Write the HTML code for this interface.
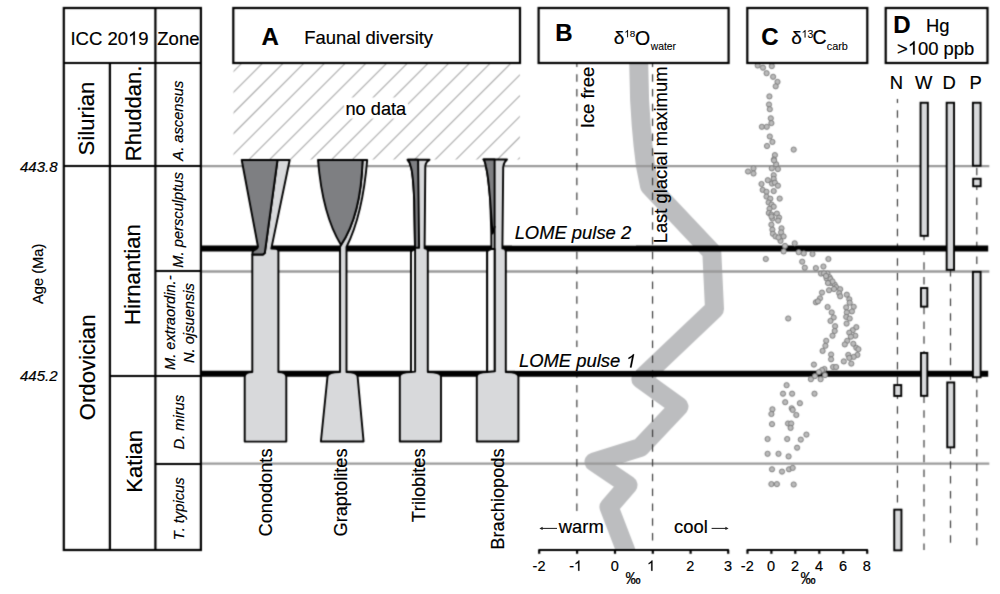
<!DOCTYPE html><html><head><meta charset="utf-8"><style>html,body{margin:0;padding:0;background:#fff;}svg{display:block;}text{font-family:"Liberation Sans",sans-serif;font-kerning:none;stroke:#000;stroke-width:0.2px;}</style></head><body>
<svg width="1000" height="594" viewBox="0 0 1000 594" font-family="Liberation Sans">
<defs><filter id="bl" x="0" y="0" width="1000" height="594" filterUnits="userSpaceOnUse" color-interpolation-filters="sRGB"><feConvolveMatrix order="3" kernelMatrix="1 4 1 4 16 4 1 4 1" divisor="36" edgeMode="duplicate"/></filter></defs>
<g filter="url(#bl)">
<rect width="1000" height="594" fill="#fff"/>
<defs><clipPath id="hc"><rect x="233.5" y="63.5" width="286.3" height="96"/></clipPath></defs>
<g clip-path="url(#hc)" stroke="#a9a9a9" stroke-width="1.1">
<line x1="42.20" y1="180" x2="182.20" y2="40"/>
<line x1="62.90" y1="180" x2="202.90" y2="40"/>
<line x1="83.60" y1="180" x2="223.60" y2="40"/>
<line x1="104.30" y1="180" x2="244.30" y2="40"/>
<line x1="125.00" y1="180" x2="265.00" y2="40"/>
<line x1="145.70" y1="180" x2="285.70" y2="40"/>
<line x1="166.40" y1="180" x2="306.40" y2="40"/>
<line x1="187.10" y1="180" x2="327.10" y2="40"/>
<line x1="207.80" y1="180" x2="347.80" y2="40"/>
<line x1="228.50" y1="180" x2="368.50" y2="40"/>
<line x1="249.20" y1="180" x2="389.20" y2="40"/>
<line x1="269.90" y1="180" x2="409.90" y2="40"/>
<line x1="290.60" y1="180" x2="430.60" y2="40"/>
<line x1="311.30" y1="180" x2="451.30" y2="40"/>
<line x1="332.00" y1="180" x2="472.00" y2="40"/>
<line x1="352.70" y1="180" x2="492.70" y2="40"/>
<line x1="373.40" y1="180" x2="513.40" y2="40"/>
<line x1="394.10" y1="180" x2="534.10" y2="40"/>
<line x1="414.80" y1="180" x2="554.80" y2="40"/>
<line x1="435.50" y1="180" x2="575.50" y2="40"/>
<line x1="456.20" y1="180" x2="596.20" y2="40"/>
<line x1="476.90" y1="180" x2="616.90" y2="40"/>
<line x1="497.60" y1="180" x2="637.60" y2="40"/>
<line x1="518.30" y1="180" x2="658.30" y2="40"/>
<line x1="539.00" y1="180" x2="679.00" y2="40"/>
<line x1="559.70" y1="180" x2="699.70" y2="40"/>
<line x1="580.40" y1="180" x2="720.40" y2="40"/>
<line x1="601.10" y1="180" x2="741.10" y2="40"/>
</g>
<rect x="344" y="97.5" width="64" height="21" fill="#fff"/>
<clipPath id="cc"><rect x="530" y="63" width="220" height="487"/></clipPath>
<polyline clip-path="url(#cc)" points="638.7,62.5 639.6,100 641.2,125 643,145 645.5,166 649.5,186 711.8,252 714.5,309 640.8,379 679,406.5 640.3,447.5 594,462 628,485 609,507 625.5,550 629,560" fill="none" stroke="#bcbdbf" stroke-width="19" stroke-linejoin="round" stroke-linecap="butt"/>
<line x1="201" y1="166.1" x2="989.3" y2="166.1" stroke="#9a9a9a" stroke-width="2.4"/>
<line x1="201" y1="271.45" x2="989.3" y2="271.45" stroke="#9a9a9a" stroke-width="2.4"/>
<line x1="201" y1="463.6" x2="989.3" y2="463.6" stroke="#9a9a9a" stroke-width="2.4"/>
<line x1="576.85" y1="64" x2="576.85" y2="512" stroke="#3a3a3a" stroke-width="1.2" stroke-dasharray="7.5 7.3" stroke-dashoffset="4.6"/>
<line x1="652.55" y1="64" x2="652.55" y2="541.5" stroke="#3a3a3a" stroke-width="1.2" stroke-dasharray="7.5 7.3" stroke-dashoffset="4.6"/>
<line x1="897.45" y1="99.1" x2="897.45" y2="550" stroke="#3a3a3a" stroke-width="1.2" stroke-dasharray="7.5 7.3" stroke-dashoffset="3.6"/>
<line x1="924.0" y1="102" x2="924.0" y2="550" stroke="#3a3a3a" stroke-width="1.2" stroke-dasharray="7.5 7.3" stroke-dashoffset="2.5"/>
<line x1="950.5" y1="102" x2="950.5" y2="550" stroke="#3a3a3a" stroke-width="1.2" stroke-dasharray="7.5 7.3" stroke-dashoffset="10.7"/>
<line x1="976.8" y1="102" x2="976.8" y2="550" stroke="#3a3a3a" stroke-width="1.2" stroke-dasharray="7.5 7.3" stroke-dashoffset="8.2"/>
<line x1="201" y1="248.45" x2="988.2" y2="248.45" stroke="#000" stroke-width="5.9"/>
<line x1="201" y1="373.75" x2="988.2" y2="373.75" stroke="#000" stroke-width="5.9"/>
<g fill="#bababa" stroke="#777" stroke-width="0.9">
<circle cx="757.7" cy="65.5" r="2.6"/>
<circle cx="763.0" cy="67.7" r="2.6"/>
<circle cx="771.8" cy="66.1" r="2.6"/>
<circle cx="766.6" cy="73.2" r="2.6"/>
<circle cx="773.1" cy="76.8" r="2.6"/>
<circle cx="777.5" cy="81.9" r="2.6"/>
<circle cx="775.7" cy="86.3" r="2.6"/>
<circle cx="769.4" cy="96.4" r="2.6"/>
<circle cx="769.0" cy="104.5" r="2.6"/>
<circle cx="769.8" cy="109.2" r="2.6"/>
<circle cx="770.8" cy="118.3" r="2.6"/>
<circle cx="771.4" cy="123.1" r="2.6"/>
<circle cx="761.9" cy="126.8" r="2.6"/>
<circle cx="766.8" cy="126.8" r="2.6"/>
<circle cx="769.8" cy="136.5" r="2.6"/>
<circle cx="772.4" cy="141.9" r="2.6"/>
<circle cx="767.0" cy="146.0" r="2.6"/>
<circle cx="793.7" cy="149.6" r="2.6"/>
<circle cx="774.9" cy="155.1" r="2.6"/>
<circle cx="773.9" cy="159.5" r="2.6"/>
<circle cx="776.1" cy="164.2" r="2.6"/>
<circle cx="774.0" cy="160.4" r="2.6"/>
<circle cx="771.8" cy="168.4" r="2.6"/>
<circle cx="777.9" cy="169.1" r="2.6"/>
<circle cx="753.5" cy="168.4" r="2.6"/>
<circle cx="748.0" cy="171.5" r="2.6"/>
<circle cx="753.5" cy="173.5" r="2.6"/>
<circle cx="773.7" cy="175.2" r="2.6"/>
<circle cx="767.8" cy="180.2" r="2.6"/>
<circle cx="773.7" cy="178.9" r="2.6"/>
<circle cx="772.0" cy="183.6" r="2.6"/>
<circle cx="774.9" cy="182.7" r="2.6"/>
<circle cx="777.9" cy="185.7" r="2.6"/>
<circle cx="761.5" cy="184.0" r="2.6"/>
<circle cx="762.7" cy="189.9" r="2.6"/>
<circle cx="766.5" cy="191.8" r="2.6"/>
<circle cx="773.7" cy="191.1" r="2.6"/>
<circle cx="766.5" cy="196.6" r="2.6"/>
<circle cx="770.3" cy="198.7" r="2.6"/>
<circle cx="779.7" cy="198.6" r="2.6"/>
<circle cx="768.6" cy="202.5" r="2.6"/>
<circle cx="771.6" cy="204.6" r="2.6"/>
<circle cx="773.7" cy="206.7" r="2.6"/>
<circle cx="769.5" cy="208.8" r="2.6"/>
<circle cx="768.8" cy="213.0" r="2.6"/>
<circle cx="771.4" cy="214.6" r="2.6"/>
<circle cx="776.9" cy="213.6" r="2.6"/>
<circle cx="779.1" cy="217.6" r="2.6"/>
<circle cx="772.4" cy="218.6" r="2.6"/>
<circle cx="778.1" cy="220.6" r="2.6"/>
<circle cx="771.4" cy="224.7" r="2.6"/>
<circle cx="781.5" cy="228.3" r="2.6"/>
<circle cx="772.4" cy="229.7" r="2.6"/>
<circle cx="781.1" cy="232.4" r="2.6"/>
<circle cx="772.9" cy="233.8" r="2.6"/>
<circle cx="775.5" cy="236.4" r="2.6"/>
<circle cx="783.6" cy="236.4" r="2.6"/>
<circle cx="780.5" cy="240.9" r="2.6"/>
<circle cx="794.7" cy="243.3" r="2.6"/>
<circle cx="785.0" cy="245.9" r="2.6"/>
<circle cx="783.6" cy="251.4" r="2.6"/>
<circle cx="798.7" cy="252.2" r="2.6"/>
<circle cx="803.8" cy="253.4" r="2.6"/>
<circle cx="812.5" cy="254.0" r="2.6"/>
<circle cx="765.8" cy="259.0" r="2.6"/>
<circle cx="828.4" cy="259.0" r="2.6"/>
<circle cx="802.2" cy="261.7" r="2.6"/>
<circle cx="804.8" cy="267.7" r="2.6"/>
<circle cx="815.9" cy="268.1" r="2.6"/>
<circle cx="823.4" cy="266.5" r="2.6"/>
<circle cx="821.0" cy="273.6" r="2.6"/>
<circle cx="827.4" cy="273.6" r="2.6"/>
<circle cx="829.5" cy="277.2" r="2.6"/>
<circle cx="826.6" cy="278.5" r="2.6"/>
<circle cx="830.5" cy="279.1" r="2.6"/>
<circle cx="831.1" cy="283.1" r="2.6"/>
<circle cx="834.7" cy="284.6" r="2.6"/>
<circle cx="836.1" cy="287.2" r="2.6"/>
<circle cx="840.2" cy="289.2" r="2.6"/>
<circle cx="829.0" cy="290.2" r="2.6"/>
<circle cx="822.0" cy="292.6" r="2.6"/>
<circle cx="839.2" cy="293.2" r="2.6"/>
<circle cx="840.2" cy="296.3" r="2.6"/>
<circle cx="846.8" cy="294.7" r="2.6"/>
<circle cx="820.0" cy="298.3" r="2.6"/>
<circle cx="815.9" cy="302.3" r="2.6"/>
<circle cx="817.9" cy="301.3" r="2.6"/>
<circle cx="849.3" cy="299.3" r="2.6"/>
<circle cx="849.7" cy="302.7" r="2.6"/>
<circle cx="827.6" cy="307.0" r="2.6"/>
<circle cx="846.2" cy="307.4" r="2.6"/>
<circle cx="853.7" cy="306.8" r="2.6"/>
<circle cx="851.9" cy="311.4" r="2.6"/>
<circle cx="846.8" cy="312.4" r="2.6"/>
<circle cx="831.7" cy="312.4" r="2.6"/>
<circle cx="833.7" cy="317.5" r="2.6"/>
<circle cx="846.2" cy="316.9" r="2.6"/>
<circle cx="849.7" cy="318.5" r="2.6"/>
<circle cx="788.2" cy="318.5" r="2.6"/>
<circle cx="830.5" cy="320.9" r="2.6"/>
<circle cx="846.6" cy="323.6" r="2.6"/>
<circle cx="835.1" cy="326.2" r="2.6"/>
<circle cx="856.3" cy="327.2" r="2.6"/>
<circle cx="852.7" cy="330.2" r="2.6"/>
<circle cx="849.3" cy="332.7" r="2.6"/>
<circle cx="834.7" cy="331.0" r="2.6"/>
<circle cx="832.5" cy="335.7" r="2.6"/>
<circle cx="855.3" cy="335.7" r="2.6"/>
<circle cx="850.9" cy="336.7" r="2.6"/>
<circle cx="847.2" cy="340.8" r="2.6"/>
<circle cx="826.2" cy="340.8" r="2.6"/>
<circle cx="844.8" cy="344.4" r="2.6"/>
<circle cx="853.3" cy="343.8" r="2.6"/>
<circle cx="825.4" cy="345.8" r="2.6"/>
<circle cx="856.3" cy="347.8" r="2.6"/>
<circle cx="858.4" cy="349.2" r="2.6"/>
<circle cx="822.6" cy="350.9" r="2.6"/>
<circle cx="831.1" cy="354.5" r="2.6"/>
<circle cx="848.3" cy="354.9" r="2.6"/>
<circle cx="857.4" cy="354.9" r="2.6"/>
<circle cx="853.7" cy="356.9" r="2.6"/>
<circle cx="849.3" cy="357.9" r="2.6"/>
<circle cx="831.1" cy="359.3" r="2.6"/>
<circle cx="843.8" cy="361.4" r="2.6"/>
<circle cx="851.3" cy="363.6" r="2.6"/>
<circle cx="813.9" cy="364.6" r="2.6"/>
<circle cx="833.1" cy="367.0" r="2.6"/>
<circle cx="836.1" cy="367.0" r="2.6"/>
<circle cx="824.4" cy="369.0" r="2.6"/>
<circle cx="822.0" cy="370.1" r="2.6"/>
<circle cx="818.9" cy="372.1" r="2.6"/>
<circle cx="825.0" cy="375.1" r="2.6"/>
<circle cx="814.9" cy="376.1" r="2.6"/>
<circle cx="820.6" cy="379.2" r="2.6"/>
<circle cx="810.9" cy="379.2" r="2.6"/>
<circle cx="786.6" cy="385.2" r="2.6"/>
<circle cx="783.0" cy="393.7" r="2.6"/>
<circle cx="792.1" cy="393.7" r="2.6"/>
<circle cx="814.5" cy="393.7" r="2.6"/>
<circle cx="785.2" cy="402.2" r="2.6"/>
<circle cx="799.9" cy="403.2" r="2.6"/>
<circle cx="772.4" cy="409.3" r="2.6"/>
<circle cx="791.7" cy="408.3" r="2.6"/>
<circle cx="792.7" cy="409.9" r="2.6"/>
<circle cx="771.4" cy="414.0" r="2.6"/>
<circle cx="796.3" cy="415.0" r="2.6"/>
<circle cx="772.0" cy="424.1" r="2.6"/>
<circle cx="788.0" cy="423.5" r="2.6"/>
<circle cx="791.2" cy="423.5" r="2.6"/>
<circle cx="790.6" cy="427.9" r="2.6"/>
<circle cx="806.4" cy="434.6" r="2.6"/>
<circle cx="767.6" cy="439.0" r="2.6"/>
<circle cx="787.2" cy="439.0" r="2.6"/>
<circle cx="800.8" cy="439.6" r="2.6"/>
<circle cx="797.1" cy="447.7" r="2.6"/>
<circle cx="767.6" cy="453.8" r="2.6"/>
<circle cx="778.5" cy="453.8" r="2.6"/>
<circle cx="788.6" cy="456.4" r="2.6"/>
<circle cx="772.0" cy="469.3" r="2.6"/>
<circle cx="782.0" cy="471.6" r="2.6"/>
<circle cx="789.0" cy="469.3" r="2.6"/>
<circle cx="792.7" cy="467.9" r="2.6"/>
<circle cx="771.4" cy="484.1" r="2.6"/>
<circle cx="776.9" cy="484.1" r="2.6"/>
<circle cx="793.7" cy="484.5" r="2.6"/>
<circle cx="778.5" cy="237.5" r="2.6"/>
<circle cx="771.5" cy="216.5" r="2.6"/>
<circle cx="824.0" cy="273.4" r="2.6"/>
<circle cx="832.5" cy="281.5" r="2.6"/>
<circle cx="828.0" cy="283.0" r="2.6"/>
<circle cx="834.0" cy="289.0" r="2.6"/>
<circle cx="826.0" cy="276.0" r="2.6"/>
</g>
<path d="M277.5,160 L289.7,160 L271.3,248.6 L276,248.7 Q278.4,249 278.4,251.5 L278.4,372 Q286.3,372.2 286.3,376.8 L286.3,441.6 L244.7,441.6 L244.7,376.8 Q244.7,372.2 252.3,372 L252.3,254.5 L263,254.5 L264.8,253 Z" fill="#d8d9db" stroke="#000" stroke-width="1.9" stroke-linejoin="round"/>
<path d="M241.7,160 L277.5,160 L264.8,253 L263,254.5 L252.5,254.5 L252.5,252.2 Q253.2,249.9 255.4,249.5 Q257.6,248.6 258,246.8 Z" fill="#7e7f82" stroke="#000" stroke-width="1.9" stroke-linejoin="round"/>
<path d="M362.6,160 L367.2,160 Q362.6,215 346.5,247 L346.5,372 Q357.5,372.3 357.6,376.6 L363.6,441.5 L320.9,441.5 L327.5,376.6 Q327.6,372.3 340,372 L340,247 L341,245 Q361,215 362.6,160 Z" fill="#d8d9db" stroke="#000" stroke-width="1.9" stroke-linejoin="round"/>
<path d="M318,160 L362.6,160 Q361,215 341,245 Q322.5,215 318,160 Z" fill="#7e7f82" stroke="#000" stroke-width="1.9" stroke-linejoin="round"/>
<path d="M407.6,159.8 L429.5,159.8 Q426,161.5 425.3,166 L424.6,248.2 Q427.8,248.4 427.8,251 L427.8,372 Q441,372.2 441,376.6 L441,441.5 L399.8,441.5 L399.8,376.6 Q399.8,372.2 411,372 L411,251.5 Q413.5,249.5 415,247.8 L414.2,200 Q413,172 410.6,166 Q409.5,161.5 407.6,159.8 Z" fill="#d8d9db" stroke="#000" stroke-width="1.9" stroke-linejoin="round"/>
<path d="M407.6,159.8 L418.1,159.8 L419.1,247.8 L415,247.8 L414.2,200 Q413,172 410.6,166 Q409.5,161.5 407.6,159.8 Z" fill="#7e7f82" stroke="#000" stroke-width="1.9" stroke-linejoin="round"/>
<path d="M411,251.5 Q413.5,249.6 415.1,249 L415.1,371.6 L411,372 Z" fill="#fbfbfb" stroke="#000" stroke-width="1.9" stroke-linejoin="round"/>
<path d="M483.5,159.5 L507,159.5 Q503.8,162 503.2,167 L502.4,248.4 Q505.8,248.6 505.8,251.5 L505.8,372 Q518.4,372.2 518.4,376.6 L518.4,441.5 L476.8,441.5 L476.8,376.6 Q476.8,372.2 487.2,372 L487.2,251.2 Q489,249.6 491.4,249 L491.3,233 L490.2,200 Q488,174 486,167 Q485.2,161.5 483.5,159.5 Z" fill="#d8d9db" stroke="#000" stroke-width="1.9" stroke-linejoin="round"/>
<path d="M483.5,159.5 L494.6,159.5 L494.6,227 L492.6,233.5 L490.2,200 Q488,174 486,167 Q485.2,161.5 483.5,159.5 Z" fill="#7e7f82" stroke="#000" stroke-width="1.9" stroke-linejoin="round"/>
<line x1="494.6" y1="226" x2="494.6" y2="372" stroke="#000" stroke-width="1.9"/>
<path d="M487.2,251.2 Q489,249.6 491.4,249 L494.6,249 L494.6,371.3 L487.2,372 Z" fill="#fbfbfb" stroke="#000" stroke-width="1.9" stroke-linejoin="round"/>
<rect x="920.55" y="102.75" width="7.30" height="133.10" fill="#d8d9db" stroke="#000" stroke-width="1.9"/>
<rect x="946.65" y="102.75" width="7.40" height="167.10" fill="#d8d9db" stroke="#000" stroke-width="1.9"/>
<rect x="972.90" y="102.75" width="7.70" height="63.00" fill="#d8d9db" stroke="#000" stroke-width="1.9"/>
<rect x="973.15" y="178.75" width="7.50" height="7.50" fill="#d8d9db" stroke="#000" stroke-width="1.9"/>
<rect x="920.95" y="288.05" width="6.40" height="18.60" fill="#d8d9db" stroke="#000" stroke-width="1.9"/>
<rect x="920.95" y="352.95" width="6.40" height="42.90" fill="#d8d9db" stroke="#000" stroke-width="1.9"/>
<rect x="972.90" y="271.85" width="7.70" height="105.40" fill="#d8d9db" stroke="#000" stroke-width="1.9"/>
<rect x="894.25" y="385.05" width="7.00" height="10.90" fill="#d8d9db" stroke="#000" stroke-width="1.9"/>
<rect x="947.25" y="382.45" width="7.00" height="64.90" fill="#d8d9db" stroke="#000" stroke-width="1.9"/>
<rect x="894.25" y="509.65" width="7.20" height="40.70" fill="#d8d9db" stroke="#000" stroke-width="1.9"/>
<line x1="538.4000000000001" y1="550.0" x2="729.0" y2="550.0" stroke="#000" stroke-width="2.2"/>
<line x1="539.2" y1="550.0" x2="539.2" y2="553.8" stroke="#000" stroke-width="2.2"/>
<line x1="577.1" y1="550.0" x2="577.1" y2="553.8" stroke="#000" stroke-width="2.2"/>
<line x1="615.0" y1="550.0" x2="615.0" y2="553.8" stroke="#000" stroke-width="2.2"/>
<line x1="652.8" y1="550.0" x2="652.8" y2="553.8" stroke="#000" stroke-width="2.2"/>
<line x1="690.6" y1="550.0" x2="690.6" y2="553.8" stroke="#000" stroke-width="2.2"/>
<line x1="728.2" y1="550.0" x2="728.2" y2="553.8" stroke="#000" stroke-width="2.2"/>
<line x1="746.7" y1="550.0" x2="868.0" y2="550.0" stroke="#000" stroke-width="2.2"/>
<line x1="747.5" y1="550.0" x2="747.5" y2="553.8" stroke="#000" stroke-width="2.2"/>
<line x1="771.4" y1="550.0" x2="771.4" y2="553.8" stroke="#000" stroke-width="2.2"/>
<line x1="795.3" y1="550.0" x2="795.3" y2="553.8" stroke="#000" stroke-width="2.2"/>
<line x1="819.3" y1="550.0" x2="819.3" y2="553.8" stroke="#000" stroke-width="2.2"/>
<line x1="843.3" y1="550.0" x2="843.3" y2="553.8" stroke="#000" stroke-width="2.2"/>
<line x1="867.2" y1="550.0" x2="867.2" y2="553.8" stroke="#000" stroke-width="2.2"/>
<rect x="233.3" y="8.0" width="286.70" height="55.00" fill="#fff" stroke="#000" stroke-width="2.2"/>
<rect x="538.6" y="8.0" width="190.00" height="55.00" fill="#fff" stroke="#000" stroke-width="2.2"/>
<rect x="747.3" y="8.0" width="120.00" height="55.00" fill="#fff" stroke="#000" stroke-width="2.2"/>
<rect x="885.7" y="8.0" width="101.80" height="55.00" fill="#fff" stroke="#000" stroke-width="2.2"/>
<rect x="63.8" y="8" width="137.1" height="542" fill="none" stroke="#000" stroke-width="2.2"/>
<line x1="64" y1="63" x2="200.9" y2="63" stroke="#000" stroke-width="2.2"/>
<line x1="64" y1="166" x2="200.9" y2="166" stroke="#000" stroke-width="2.2"/>
<line x1="109.9" y1="63" x2="109.9" y2="550" stroke="#000" stroke-width="2.2"/>
<line x1="155.4" y1="8" x2="155.4" y2="550" stroke="#000" stroke-width="2.2"/>
<line x1="109.9" y1="376" x2="200.9" y2="376" stroke="#000" stroke-width="2.2"/>
<line x1="155.4" y1="271" x2="200.9" y2="271" stroke="#000" stroke-width="2.2"/>
<line x1="155.4" y1="464" x2="200.9" y2="464" stroke="#000" stroke-width="2.2"/>
<defs><filter id="bt" x="0" y="0" width="1000" height="594" filterUnits="userSpaceOnUse" color-interpolation-filters="sRGB"><feConvolveMatrix order="3" kernelMatrix="none" divisor="1" edgeMode="none"/></filter></defs>
<rect x="512" y="220" width="124" height="25.4" fill="#fff"/>
<rect x="515" y="347" width="121" height="23.6" fill="#fff"/>
</g>
<g>
<path d="M763,0 L583,0 L583,1147 C540,1106 483,1064 413,1023 C343,982 280,951 224,930 L224,1104 C325,1152 413,1210 488,1277 C563,1345 616,1410 647,1472 L763,1472 Z" transform="translate(127.97,44.80) scale(0.009033,-0.009033)" fill="#000" stroke="#000" stroke-width="22.1"/>
<text x="70.39" y="44.80" font-size="18.5" fill="#000">ICC 20 9</text>
<text x="157.31" y="44.80" font-size="18.5" fill="#000">Zone</text>
<text x="94.30" y="155.39" font-size="22.1" fill="#000" transform="rotate(-90 94.30 155.39)">Silurian</text>
<text x="140.60" y="161.32" font-size="22.1" fill="#000" transform="rotate(-90 140.60 161.32)">Rhuddan.</text>
<text x="183.10" y="160.62" font-size="14.7" font-style="italic" fill="#000" transform="rotate(-90 183.10 160.62)">A. ascensus</text>
<text x="95.00" y="420.17" font-size="22.1" fill="#000" transform="rotate(-90 95.00 420.17)">Ordovician</text>
<text x="140.30" y="324.91" font-size="22.1" fill="#000" transform="rotate(-90 140.30 324.91)">Hirnantian</text>
<text x="141.60" y="492.67" font-size="22.1" fill="#000" transform="rotate(-90 141.60 492.67)">Katian</text>
<text x="183.30" y="267.67" font-size="14.7" font-style="italic" fill="#000" transform="rotate(-90 183.30 267.67)">M. persculptus</text>
<text x="175.00" y="370.09" font-size="14.7" font-style="italic" fill="#000" transform="rotate(-90 175.00 370.09)">M. extraordin.-</text>
<text x="193.60" y="363.06" font-size="14.7" font-style="italic" fill="#000" transform="rotate(-90 193.60 363.06)">N. ojsuensis</text>
<text x="183.80" y="449.58" font-size="14.7" font-style="italic" fill="#000" transform="rotate(-90 183.80 449.58)">D. mirus</text>
<text x="183.80" y="540.26" font-size="14.7" font-style="italic" fill="#000" transform="rotate(-90 183.80 540.26)">T. typicus</text>
<text x="20.00" y="171.70" font-size="15" font-style="italic" fill="#000">443.8</text>
<text x="20.00" y="380.90" font-size="15" font-style="italic" fill="#000">445.2</text>
<text x="43.50" y="304.08" font-size="14.7" fill="#000" transform="rotate(-90 43.50 304.08)">Age (Ma)</text>
<text x="261.50" y="44.50" font-size="24" font-weight="bold" fill="#000">A</text>
<text x="304.29" y="44.25" font-size="18.4" fill="#000">Faunal diversity</text>
<text x="345.49" y="114.70" font-size="18.2" fill="#000">no data</text>
<text x="555.19" y="41.20" font-size="24" font-weight="bold" fill="#000">B</text>
<text x="613.70" y="44.40" font-size="19" fill="#000">δ</text>
<path d="M763,0 L583,0 L583,1147 C540,1106 483,1064 413,1023 C343,982 280,951 224,930 L224,1104 C325,1152 413,1210 488,1277 C563,1345 616,1410 647,1472 L763,1472 Z" transform="translate(624.35,37.20) scale(0.004834,-0.004834)" fill="#000" stroke="#000" stroke-width="20.7"/>
<text x="624.35" y="37.20" font-size="9.9" fill="#000" style="stroke-width:0.1px"> 8</text>
<text x="634.98" y="44.50" font-size="19.5" fill="#000">O</text>
<text x="650.72" y="49.80" font-size="10.3" fill="#000" style="stroke-width:0.1px">water</text>
<text x="761.22" y="45.10" font-size="24" font-weight="bold" fill="#000">C</text>
<text x="791.20" y="44.40" font-size="19" fill="#000">δ</text>
<path d="M763,0 L583,0 L583,1147 C540,1106 483,1064 413,1023 C343,982 280,951 224,930 L224,1104 C325,1152 413,1210 488,1277 C563,1345 616,1410 647,1472 L763,1472 Z" transform="translate(801.60,37.60) scale(0.005127,-0.005127)" fill="#000" stroke="#000" stroke-width="19.5"/>
<text x="801.60" y="37.60" font-size="10.5" fill="#000" style="stroke-width:0.1px"> 3</text>
<text x="812.61" y="44.40" font-size="19.5" fill="#000">C</text>
<text x="826.74" y="50.10" font-size="10.9" fill="#000" style="stroke-width:0.1px">carb</text>
<text x="893.19" y="32.80" font-size="24" font-weight="bold" fill="#000">D</text>
<text x="925.99" y="32.20" font-size="18.4" fill="#000">Hg</text>
<path d="M763,0 L583,0 L583,1147 C540,1106 483,1064 413,1023 C343,982 280,951 224,930 L224,1104 C325,1152 413,1210 488,1277 C563,1345 616,1410 647,1472 L763,1472 Z" transform="translate(907.84,54.50) scale(0.008984,-0.008984)" fill="#000" stroke="#000" stroke-width="22.3"/>
<text x="897.09" y="54.50" font-size="18.4" fill="#000">&gt; 00 ppb</text>
<text x="889.69" y="88.80" font-size="18.4" fill="#000">N</text>
<text x="915.12" y="88.80" font-size="18.4" fill="#000">W</text>
<text x="942.39" y="88.80" font-size="18.4" fill="#000">D</text>
<text x="969.39" y="88.80" font-size="18.4" fill="#000">P</text>
<text x="593.70" y="128.17" font-size="18.4" fill="#000" transform="rotate(-90 593.70 128.17)">Ice free</text>
<text x="667.00" y="243.35" font-size="18.4" fill="#000" transform="rotate(-90 667.00 243.35)">Last glacial maximum</text>
<text x="514.63" y="239.00" font-size="18.4" font-style="italic" fill="#000">LOME pulse 2</text>
<path d="M 683,0 L 503,0 L 732,1147 C 681,1106 616,1064 538,1023 C 459,982 390,951 330,930 L 365,1104 C 475,1152 575,1210 663,1277 C 752,1345 818,1410 861,1472 L 977,1472 Z" transform="translate(625.39,367.40) scale(0.008984,-0.008984)" fill="#000" stroke="#000" stroke-width="22.3"/>
<text x="519.03" y="367.40" font-size="18.4" font-style="italic" fill="#000">LOME pulse  </text>
<text x="558.83" y="532.70" font-size="18.4" fill="#000">warm</text>
<text x="674.12" y="532.70" font-size="18.4" fill="#000">cool</text>
<g stroke="#222" stroke-width="1.05" fill="none"><line x1="541" y1="528.4" x2="557" y2="528.4"/><line x1="711.6" y1="528.4" x2="727" y2="528.4"/></g>
<g fill="#222"><polygon points="539.4,528.4 542.6,526.8 542.6,530"/><polygon points="728.6,528.4 725.4,526.8 725.4,530"/></g>
<text x="271.90" y="536.47" font-size="18.2" fill="#000" transform="rotate(-90 271.90 536.47)">Conodonts</text>
<text x="347.10" y="536.45" font-size="18.2" fill="#000" transform="rotate(-90 347.10 536.45)">Graptolites</text>
<text x="425.40" y="522.27" font-size="18.2" fill="#000" transform="rotate(-90 425.40 522.27)">Trilobites</text>
<text x="504.10" y="549.62" font-size="18.2" fill="#000" transform="rotate(-90 504.10 549.62)">Brachiopods</text>
<text x="532.60" y="570.80" font-size="14.5" fill="#000">-2</text>
<path d="M763,0 L583,0 L583,1147 C540,1106 483,1064 413,1023 C343,982 280,951 224,930 L224,1104 C325,1152 413,1210 488,1277 C563,1345 616,1410 647,1472 L763,1472 Z" transform="translate(574.01,570.80) scale(0.007080,-0.007080)" fill="#000" stroke="#000" stroke-width="28.2"/>
<text x="569.19" y="570.80" font-size="14.5" fill="#000">- </text>
<text x="610.77" y="570.80" font-size="14.5" fill="#000">0</text>
<path d="M763,0 L583,0 L583,1147 C540,1106 483,1064 413,1023 C343,982 280,951 224,930 L224,1104 C325,1152 413,1210 488,1277 C563,1345 616,1410 647,1472 L763,1472 Z" transform="translate(647.07,570.80) scale(0.007080,-0.007080)" fill="#000" stroke="#000" stroke-width="28.2"/>
<text x="647.07" y="570.80" font-size="14.5" fill="#000"> </text>
<text x="686.37" y="570.80" font-size="14.5" fill="#000">2</text>
<text x="724.01" y="570.80" font-size="14.5" fill="#000">3</text>
<text x="740.80" y="570.80" font-size="14.5" fill="#000">-2</text>
<text x="767.07" y="570.80" font-size="14.5" fill="#000">0</text>
<text x="790.97" y="570.80" font-size="14.5" fill="#000">2</text>
<text x="815.01" y="570.80" font-size="14.5" fill="#000">4</text>
<text x="838.92" y="570.80" font-size="14.5" fill="#000">6</text>
<text x="862.87" y="570.80" font-size="14.5" fill="#000">8</text>
<text x="625.60" y="584.10" font-size="15.2" fill="#000" transform="translate(0 584.10) scale(1 1.12) translate(0 -584.10)">‰</text>
<text x="800.40" y="584.20" font-size="15.2" fill="#000" transform="translate(0 584.20) scale(1 1.12) translate(0 -584.20)">‰</text>
</g></svg></body></html>
